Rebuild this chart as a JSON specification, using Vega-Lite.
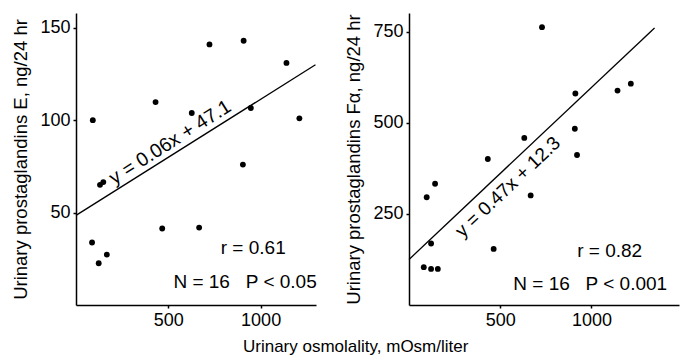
{
  "$schema": "https://vega.github.io/schema/vega-lite/v6.json",
  "padding": {"left": 11, "top": 13, "right": 5, "bottom": 2},
  "background": "white",
  "config": {
    "view": {"stroke": null},
    "font": "Liberation Sans",
    "axis": {"grid": false, "domainColor": "black", "tickColor": "black", "labelColor": "black", "titleColor": "black", "labelFontSize": 18, "titleFontSize": 18.5, "titleFontWeight": "normal", "domainWidth": 1.5, "tickWidth": 1.5, "tickSize": 3, "labelPadding": 3, "format": "d"},
    "concat": {"spacing": 25}
  },
  "title": {"text": "Urinary osmolality, mOsm/liter", "orient": "bottom", "anchor": "start", "fontSize": 17, "fontWeight": "normal", "color": "black", "dx": 231, "offset": 10},
  "datasets": {
    "e": [
      {"osm": 91, "pg": 100}, {"osm": 431, "pg": 109.8}, {"osm": 627, "pg": 103.9}, {"osm": 723, "pg": 141},
      {"osm": 908, "pg": 143}, {"osm": 947, "pg": 106.6}, {"osm": 1140, "pg": 131}, {"osm": 1210, "pg": 101},
      {"osm": 904, "pg": 76}, {"osm": 130, "pg": 65}, {"osm": 148, "pg": 66.5}, {"osm": 467, "pg": 41.4},
      {"osm": 667, "pg": 41.9}, {"osm": 87, "pg": 33.8}, {"osm": 167, "pg": 27.3}, {"osm": 123, "pg": 22.6}
    ],
    "f": [
      {"osm": 729, "pg": 763}, {"osm": 912, "pg": 581}, {"osm": 1143, "pg": 589}, {"osm": 1216, "pg": 608},
      {"osm": 632, "pg": 459}, {"osm": 909, "pg": 484}, {"osm": 921, "pg": 412}, {"osm": 432, "pg": 401},
      {"osm": 143, "pg": 333}, {"osm": 97, "pg": 296}, {"osm": 667, "pg": 301}, {"osm": 121, "pg": 169},
      {"osm": 464, "pg": 154}, {"osm": 81, "pg": 104}, {"osm": 121, "pg": 99}, {"osm": 158, "pg": 99}
    ],
    "eline": [{"osm": 0, "pg": 48.5}, {"osm": 1297, "pg": 130}],
    "fline": [{"osm": 0, "pg": 125}, {"osm": 1346, "pg": 761}],
    "enotes": [{"osm": 1136, "pg": 31, "t": "r = 0.61"}, {"osm": 1304, "pg": 12.7, "t": "N = 16\u00a0\u00a0\u00a0P < 0.05"}],
    "fnotes": [{"osm": 1278, "pg": 147.5, "t": "r = 0.82"}, {"osm": 1415, "pg": 57, "t": "N = 16\u00a0\u00a0\u00a0P < 0.001"}],
    "eeq": [{"osm": 510, "pg": 88, "t": "y = 0.06x + 47.1"}],
    "feq": [{"osm": 542, "pg": 324, "t": "y = 0.47x + 12.3"}]
  },
  "hconcat": [
    {
      "width": 240,
      "height": 292,
      "encoding": {
        "x": {"field": "osm", "type": "quantitative", "scale": {"domain": [0, 1300], "nice": false}, "axis": {"values": [500, 1000], "title": null}},
        "y": {"field": "pg", "type": "quantitative", "scale": {"domain": [0, 158], "nice": false}, "axis": {"values": [50, 100, 150], "title": "Urinary prostaglandins E, ng/24 hr", "titlePadding": 9}}
      },
      "layer": [
        {"data": {"name": "eline"}, "mark": {"type": "line", "color": "black", "strokeWidth": 1.3}},
        {"data": {"name": "e"}, "mark": {"type": "circle", "color": "black", "opacity": 1, "size": 34}},
        {"data": {"name": "enotes"}, "mark": {"type": "text", "align": "right", "baseline": "middle", "fontSize": 19, "color": "black"}, "encoding": {"text": {"field": "t"}}},
        {"data": {"name": "eeq"}, "mark": {"type": "text", "align": "center", "baseline": "middle", "fontSize": 19.5, "angle": -32.4, "color": "black"}, "encoding": {"text": {"field": "t"}}}
      ]
    },
    {
      "width": 270,
      "height": 292,
      "encoding": {
        "x": {"field": "osm", "type": "quantitative", "scale": {"domain": [0, 1480], "nice": false}, "axis": {"values": [500, 1000], "title": null}},
        "y": {"field": "pg", "type": "quantitative", "scale": {"domain": [0, 802], "nice": false}, "axis": {"values": [250, 500, 750], "title": "Urinary prostaglandins Fα, ng/24 hr", "titlePadding": 9}}
      },
      "layer": [
        {"data": {"name": "fline"}, "mark": {"type": "line", "color": "black", "strokeWidth": 1.3}},
        {"data": {"name": "f"}, "mark": {"type": "circle", "color": "black", "opacity": 1, "size": 34}},
        {"data": {"name": "fnotes"}, "mark": {"type": "text", "align": "right", "baseline": "middle", "fontSize": 19, "color": "black"}, "encoding": {"text": {"field": "t"}}},
        {"data": {"name": "feq"}, "mark": {"type": "text", "align": "center", "baseline": "middle", "fontSize": 19, "angle": -43.5, "color": "black"}, "encoding": {"text": {"field": "t"}}}
      ]
    }
  ]
}
